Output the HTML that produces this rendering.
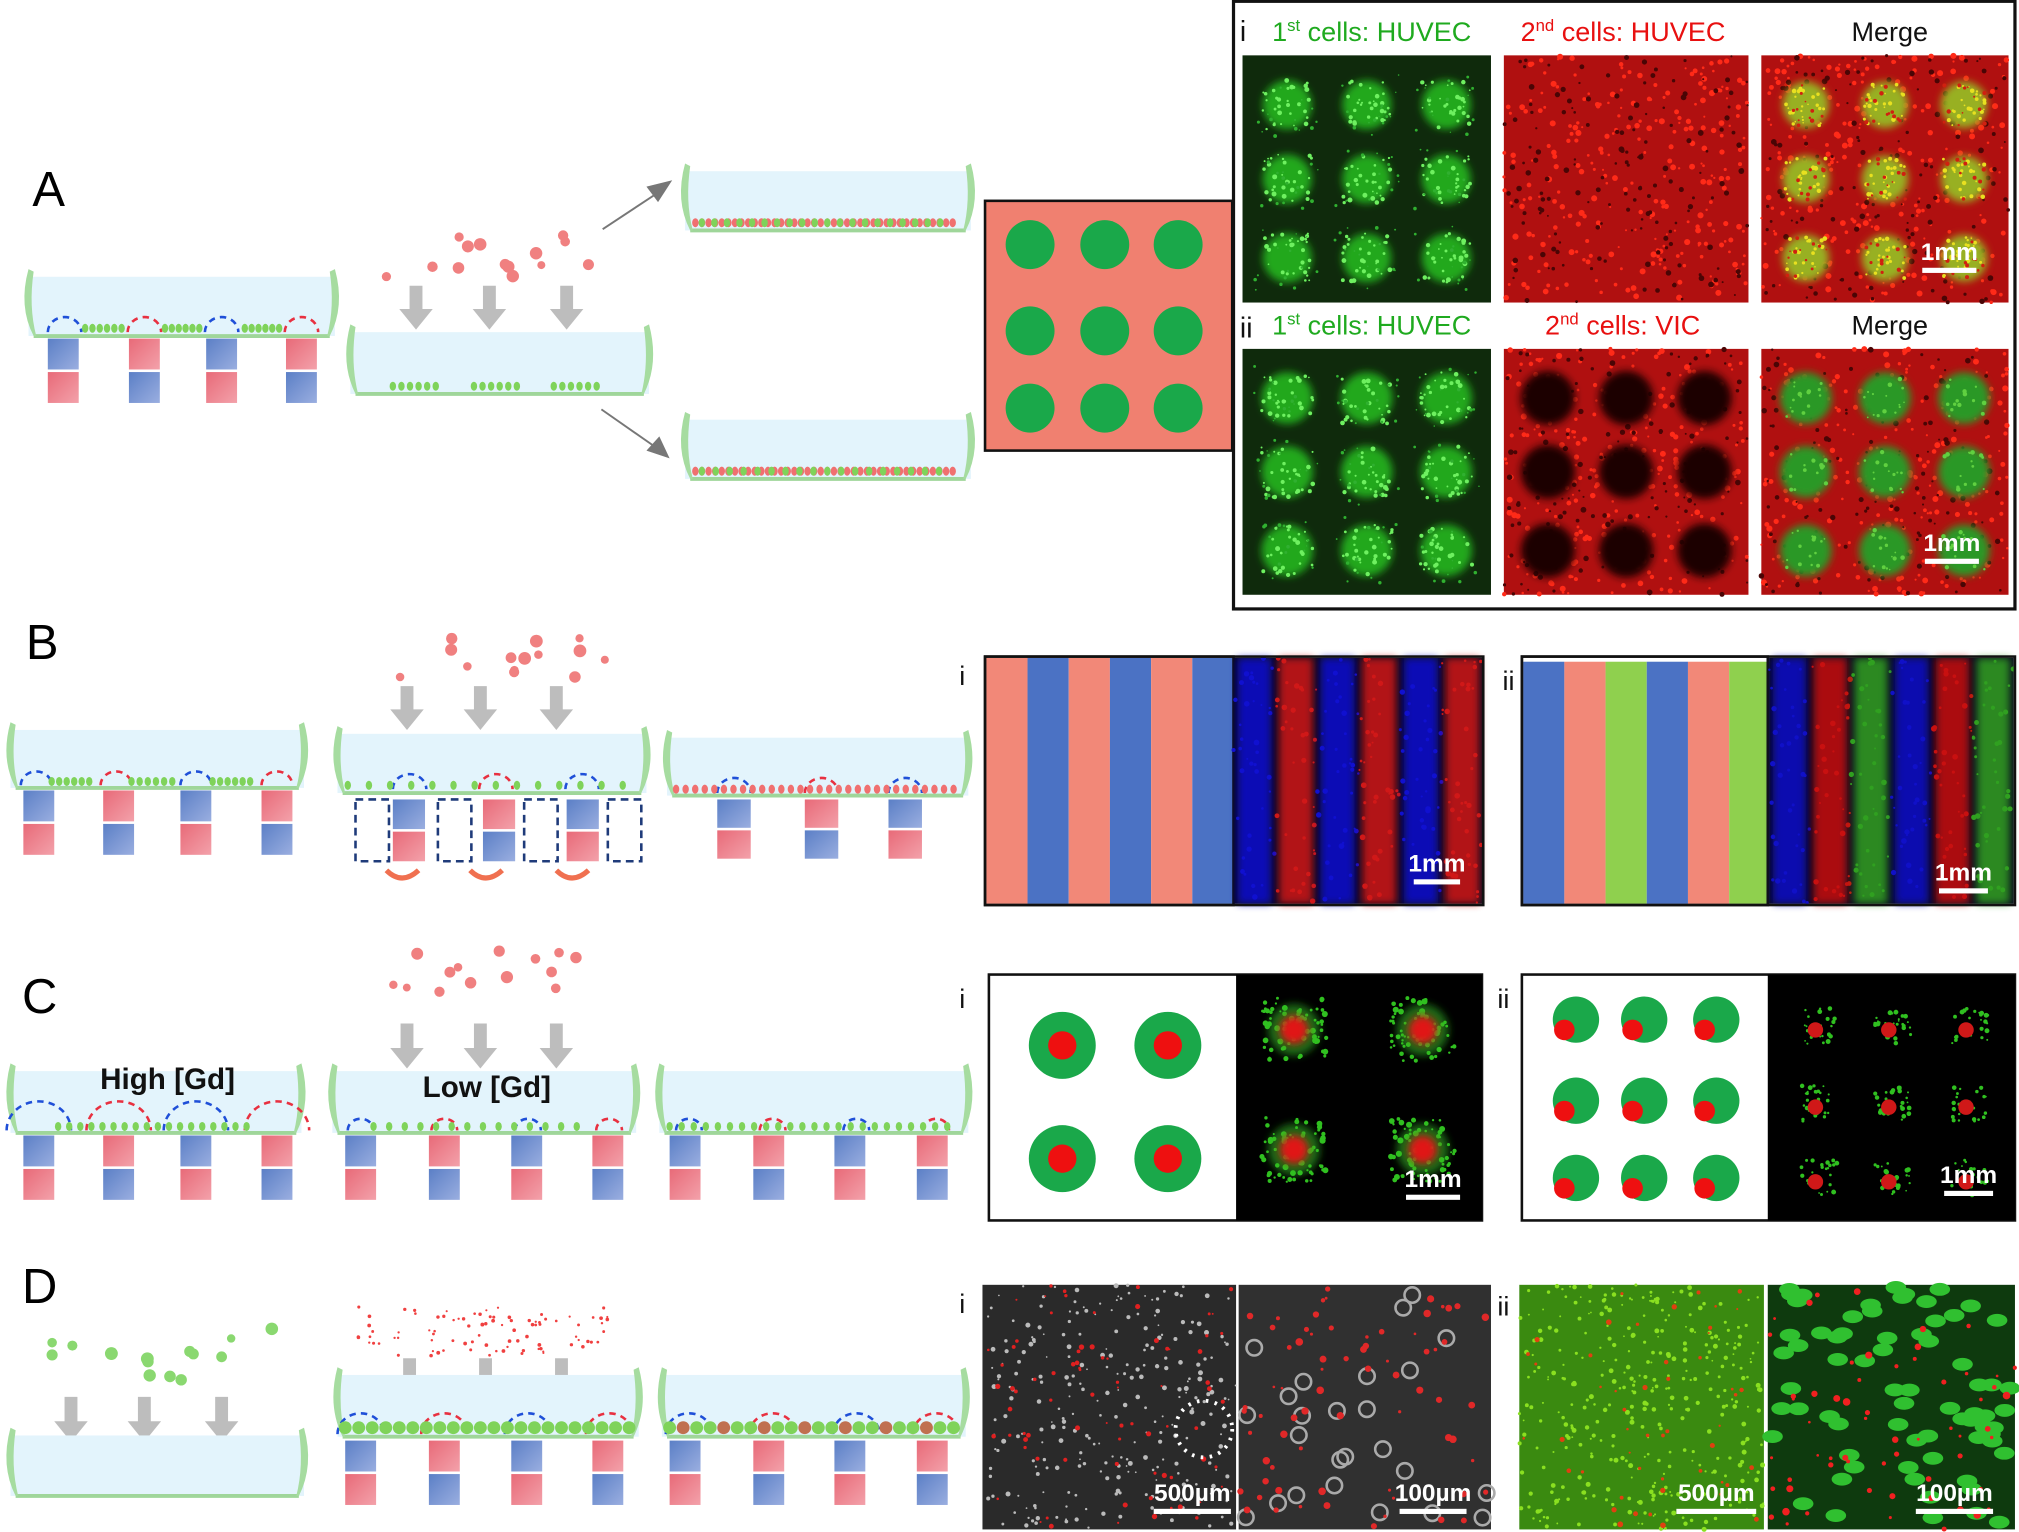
<!DOCTYPE html>
<html><head><meta charset="utf-8"><style>
html,body{margin:0;padding:0;background:#fff;}
svg{display:block;font-family:"Liberation Sans",sans-serif;}
</style></head><body>
<svg id="fig" width="2019" height="1532" viewBox="0 0 1568 1190" xmlns="http://www.w3.org/2000/svg">
<defs>
<linearGradient id="gb" x1="0" y1="0" x2="1" y2="1"><stop offset="0" stop-color="#5b7fc6"/><stop offset="1" stop-color="#9aaee0"/></linearGradient>
<linearGradient id="gr" x1="0" y1="0" x2="1" y2="1"><stop offset="0" stop-color="#e86a78"/><stop offset="1" stop-color="#f3a1aa"/></linearGradient>
<filter id="blur" x="-30%" y="-30%" width="160%" height="160%"><feGaussianBlur stdDeviation="3"/></filter>
</defs>
<g id="root"></g>
<text x="25" y="160" font-size="38">A</text>
<text x="20" y="512" font-size="38">B</text>
<text x="17" y="787" font-size="38">C</text>
<text x="17" y="1012" font-size="38">D</text>
</svg>
<script>
var NS='http://www.w3.org/2000/svg';
var root=document.getElementById('root');
var seed=7;function rnd(){seed=(seed*16807)%2147483647;return (seed-1)/2147483646;}
function mk(tag,attrs,name,parent){var el=document.createElementNS(NS,tag);for(var k in attrs)el.setAttribute(k,attrs[k]);


(parent||root).appendChild(el);return el;}
function txt(x,y,s,size,fill,name,weight,anchor){var t=mk('text',{x:x,y:y,'font-size':size,fill:fill,'font-weight':weight||'normal','text-anchor':anchor||'start'},name);t.textContent=s;return t;}
function trough(x,y,w,h,name){var g=mk('g',{},name);
mk('rect',{x:x,y:y,width:w,height:h,fill:'#e3f4fc'},'trough-fluid',g);
mk('line',{x1:x+4,y1:y+h,x2:x+w-4,y2:y+h,stroke:'#9fd69a','stroke-width':3},'trough-bottom',g);
mk('path',{d:'M'+x+' '+(y-6)+' Q'+(x-8)+' '+(y+h/2)+' '+(x+4)+' '+(y+h)+' L'+(x+6)+' '+(y+h)+' Q'+(x)+' '+(y+h/2)+' '+(x+4)+' '+(y-4)+'Z',fill:'#a6dca0'},'trough-cap-left',g);
mk('path',{d:'M'+(x+w)+' '+(y-6)+' Q'+(x+w+8)+' '+(y+h/2)+' '+(x+w-4)+' '+(y+h)+' L'+(x+w-6)+' '+(y+h)+' Q'+(x+w)+' '+(y+h/2)+' '+(x+w-4)+' '+(y-4)+'Z',fill:'#a6dca0'},'trough-cap-right',g);
return g;}
function magnets(xs,y,w,h,topBlue,name){var g=mk('g',{},name);
xs.forEach(function(x,i){var b=(i%2==0)==topBlue;
mk('rect',{x:x,y:y,width:w,height:h,fill:b?'url(#gb)':'url(#gr)'},'magnet-top',g);
mk('rect',{x:x,y:y+h+2,width:w,height:h,fill:b?'url(#gr)':'url(#gb)'},'magnet-bottom',g);});}
function arcs(xs,y,r,name){xs.forEach(function(x,i){mk('path',{d:'M'+(x-r)+' '+y+' A'+r+' '+(r*0.9)+' 0 0 1 '+(x+r)+' '+y,fill:'none',stroke:i%2?'#e83040':'#1f4fd8','stroke-width':2,'stroke-dasharray':'5 4'},name);});}
function cells(x1,x2,y,col,name,n){for(var i=0;i<n;i++){var x=x1+(x2-x1)*i/n;mk('ellipse',{cx:x,cy:y-3,rx:2.5,ry:3.5,fill:col},name);}}
function downArrow(x,y1,y2,name){mk('path',{d:'M'+(x-5)+' '+y1+' h10 v'+(y2-y1-16)+' h8 l-13 16 l-13 -16 h8z',fill:'#bdbdbd'},name);}
function dots(x,y,w,h,n,col,rmin,rmax,name){for(var i=0;i<n;i++)mk('circle',{cx:x+rnd()*w,cy:y+rnd()*h,r:rmin+rnd()*(rmax-rmin),fill:col},name);}
function speck(x,y,w,h,n,col,r,name,g){for(var i=0;i<n;i++)mk('circle',{cx:x+rnd()*w,cy:y+rnd()*h,r:r*(0.5+rnd()),fill:col},name,g);}

/* ---------- Panel A schematic ---------- */
trough(22,215,238,46,'trough-a1');
arcs([50,112,172,234],258,13,'field-arc');
cells(66,100,258,'#7fd35a','cell-green',6);cells(128,160,258,'#7fd35a','cell-green',6);cells(190,222,258,'#7fd35a','cell-green',6);
magnets([37,100,160,222],263,24,24,true,'magnets-a');
dots(300,178,170,40,14,'#f08080',3,5,'falling-cell-red');
downArrow(323,222,256,'arrow-down');downArrow(380,222,256,'arrow-down');downArrow(440,222,256,'arrow-down');
trough(272,258,232,48,'trough-a2');
cells(305,345,303,'#7fd35a','cell-green',6);cells(368,408,303,'#7fd35a','cell-green',6);cells(430,470,303,'#7fd35a','cell-green',6);
mk('line',{x1:468,y1:178,x2:515,y2:147,stroke:'#777','stroke-width':1.5},'arrow-up-right');
mk('path',{d:'M522 140 l-20 5 l9 12z',fill:'#777'},'arrow-head');
mk('line',{x1:467,y1:318,x2:510,y2:348,stroke:'#777','stroke-width':1.5},'arrow-down-right');
mk('path',{d:'M520 356 l-8 -17 l-10 11z',fill:'#777'},'arrow-head');
trough(532,133,222,46,'trough-a3');cells(540,745,176,'#f07070','cell-red',40);cells(545,740,176,'#7fd35a','cell-green',20);
trough(532,326,222,46,'trough-a4');cells(540,745,369,'#f07070','cell-red',40);cells(545,740,369,'#7fd35a','cell-green',18);
mk('rect',{x:765,y:156,width:192,height:194,fill:'#f08070',stroke:'#111','stroke-width':2},'pattern-square');
[800,858,915].forEach(function(cx){[190,257,317].forEach(function(cy){mk('circle',{cx:cx,cy:cy,r:19,fill:'#1aa84a'},'pattern-dot');});});

/* ---------- Panel A images ---------- */
mk('rect',{x:958,y:1,width:607,height:472,fill:'#fff',stroke:'#111','stroke-width':2.5},'image-box-a');
var FX=[0.18,0.5,0.82],FY=[0.2,0.5,0.82];
function greenSpots(x,y,w,h,r,name){var g=mk('g',{},name);mk('rect',{x:x,y:y,width:w,height:h,fill:'#0f2a0c'},'image-bg',g);
FX.forEach(function(fx){FY.forEach(function(fy){mk('circle',{cx:x+w*fx,cy:y+h*fy,r:r,fill:'#22a81e',filter:'url(#blur)'},'spot',g);speck(x+w*fx-r,y+h*fy-r,2*r,2*r,30,'#6ef060',1.3,'speckle',g);speck(x+w*fx-r-6,y+h*fy-r-6,2*r+12,2*r+12,14,'#30b030',1,'speckle',g);});});return g;}
function redField(x,y,w,h,holes,name){var g=mk('g',{},name);mk('rect',{x:x,y:y,width:w,height:h,fill:'#b01010'},'image-bg',g);speck(x,y,w,h,260,'#ff2a18',1.6,'speckle',g);speck(x,y,w,h,160,'#4a0505',1.5,'speckle',g);
if(holes)FX.forEach(function(fx){FY.forEach(function(fy){mk('circle',{cx:x+w*fx,cy:y+h*fy,r:holes,fill:'#1a0303',filter:'url(#blur)'},'hole',g);});});return g;}
greenSpots(965,43,193,192,19,'img-a-i-1st');redField(1168,43,190,192,0,'img-a-i-2nd');
var m1=redField(1368,43,192,192,0,'img-a-i-merge');FX.forEach(function(fx){FY.forEach(function(fy){mk('circle',{cx:1368+192*fx,cy:43+192*fy,r:18,fill:'#98b020',filter:'url(#blur)'},'spot',m1);speck(1368+192*fx-16,43+192*fy-16,32,32,25,'#e8e020',1.2,'speckle',m1);speck(1368+192*fx-16,43+192*fy-16,32,32,12,'#d02010',1.2,'speckle',m1);});});
greenSpots(965,271,193,191,20,'img-a-ii-1st');redField(1168,271,190,191,21,'img-a-ii-2nd');
var m2=redField(1368,271,192,191,0,'img-a-ii-merge');FX.forEach(function(fx){FY.forEach(function(fy){mk('circle',{cx:1368+192*fx,cy:271+191*fy,r:20,fill:'#2a9828',filter:'url(#blur)'},'spot',m2);speck(1368+192*fx-16,271+191*fy-16,32,32,15,'#60d040',1.2,'speckle',m2);});});
txt(963,32,'i',22,'#111','label-i');txt(963,262,'ii',22,'#111','label-ii');
function supLabel(x,y,num,sup,rest,col,name){var t=mk('text',{x:x,y:y,'font-size':21,fill:col},name);t.innerHTML=num+'<tspan dy="-8" font-size="13">'+sup+'</tspan><tspan dy="8">'+rest+'</tspan>';}
supLabel(988,32,'1','st',' cells: HUVEC','#1faa1f','label-1st-cells');
supLabel(1181,32,'2','nd',' cells: HUVEC','#e81010','label-2nd-cells');
txt(1438,32,'Merge',21,'#111','label-merge');
supLabel(988,260,'1','st',' cells: HUVEC','#1faa1f','label-1st-cells');
supLabel(1200,260,'2','nd',' cells: VIC','#e81010','label-2nd-cells');
txt(1438,260,'Merge',21,'#111','label-merge');
function scale(x,y,w,label,name){txt(x+w/2,y-6,label,19,'#fff','scale-label','bold','middle');mk('rect',{x:x,y:y,width:w,height:4,fill:'#fff'},name);}
scale(1493,208,42,'1mm','scale-bar');scale(1495,434,42,'1mm','scale-bar');

/* ---------- Panel B ---------- */
trough(8,567,228,45,'trough-b1');arcs([28,90,152,215],610,12,'field-arc');cells(40,75,610,'#7fd35a','cell-green',6);cells(102,140,610,'#7fd35a','cell-green',6);cells(165,200,610,'#7fd35a','cell-green',6);
magnets([18,80,140,203],614,24,24,true,'magnets-b1');
dots(300,488,175,40,14,'#f08080',3,5,'falling-cell-red');
downArrow(316,533,567,'arrow-down');downArrow(373,533,567,'arrow-down');downArrow(432,533,567,'arrow-down');
trough(262,570,240,46,'trough-b2');arcs([318,385,452],613,13,'field-arc');cells(270,500,613,'#7fd35a','cell-green',14);
magnets([305,375,440],621,25,23,true,'magnets-b2');
[276,340,407,472].forEach(function(x){mk('rect',{x:x,y:621,width:26,height:48,fill:'none',stroke:'#1f3b7a','stroke-width':2,'stroke-dasharray':'6 4'},'dashed-slot');});
[300,365,432].forEach(function(x){mk('path',{d:'M'+x+' 676 q12 12 25 0',fill:'none',stroke:'#f07050','stroke-width':4},'shift-arrow');});
trough(518,573,234,45,'trough-b3');arcs([570,638,703],616,13,'field-arc');cells(525,748,616,'#f07070','cell-red',30);
magnets([557,625,690],621,26,22,true,'magnets-b3');
txt(745,532,'i',21,'#111','label-i');txt(1167,536,'ii',21,'#111','label-ii');
var stripesI=['#f28878','#4b72c4','#f28878','#4b72c4','#f28878','#4b72c4'];
var stripesII=['#4b72c4','#f28878','#8fd04e','#4b72c4','#f28878','#8fd04e'];
stripesI.forEach(function(c,i){mk('rect',{x:766+i*32,y:511,width:32,height:191,fill:c},'stripe');});
stripesII.forEach(function(c,i){mk('rect',{x:1183+i*32,y:514,width:32,height:188,fill:c},'stripe');});
mk('rect',{x:765,y:510,width:193,height:193,fill:'none',stroke:'#111','stroke-width':2},'pattern-box-b-i');
mk('rect',{x:1182,y:510,width:191,height:193,fill:'none',stroke:'#111','stroke-width':2},'pattern-box-b-ii');
function stripeImg(x,y,w,h,cols,name){var g=mk('g',{},name);mk('rect',{x:x,y:y,width:w,height:h,fill:'#0a0a20'},'image-bg',g);var sw=w/cols.length;cols.forEach(function(c,i){mk('rect',{x:x+i*sw+3,y:y,width:sw-6,height:h,fill:c,opacity:0.85,filter:'url(#blur)'},'stripe',g);speck(x+i*sw,y,sw,h,40,c,1.5,'speckle',g);});}
stripeImg(958,511,194,191,['#1010d0','#d01818','#1010d0','#d01818','#1010d0','#d01818'],'img-b-i');
stripeImg(1374,511,190,191,['#1010c8','#c81010','#30a020','#1010c8','#c81010','#30a020'],'img-b-ii');
mk('rect',{x:765,y:510,width:387,height:193,fill:'none',stroke:'#111','stroke-width':2},'box-b-i');
mk('rect',{x:1182,y:510,width:383,height:193,fill:'none',stroke:'#111','stroke-width':2},'box-b-ii');
scale(1098,683,36,'1mm','scale-bar');scale(1506,690,38,'1mm','scale-bar');

/* ---------- Panel C ---------- */
trough(8,832,226,48,'trough-c1');arcs([30,92,152,215],878,25,'field-arc');cells(45,200,878,'#7fd35a','cell-green',18);
txt(130,846,'High [Gd]',23,'#111','label-high-gd','bold','middle');
magnets([18,80,140,203],882,24,24,true,'magnets-c1');
dots(295,738,175,40,14,'#f08080',3,5,'falling-cell-red');
downArrow(316,795,830,'arrow-down');downArrow(373,795,830,'arrow-down');downArrow(432,795,830,'arrow-down');
trough(258,832,236,48,'trough-c2');arcs([280,345,410,473],878,10,'field-arc');cells(290,460,878,'#7fd35a','cell-green',14);
txt(378,852,'Low [Gd]',23,'#111','label-low-gd','bold','middle');
magnets([268,333,397,460],882,24,24,true,'magnets-c2');
trough(512,832,240,48,'trough-c3');arcs([535,600,665,727],878,10,'field-arc');cells(520,745,878,'#7fd35a','cell-green',24);
magnets([520,585,648,712],882,24,24,true,'magnets-c3');
txt(745,783,'i',21,'#111','label-i');txt(1163,783,'ii',21,'#111','label-ii');
mk('rect',{x:768,y:757,width:383,height:191,fill:'#fff',stroke:'#111','stroke-width':2},'box-c-i');
mk('rect',{x:1182,y:757,width:383,height:191,fill:'#fff',stroke:'#111','stroke-width':2},'box-c-ii');
[825,907].forEach(function(cx){[812,900].forEach(function(cy){mk('circle',{cx:cx,cy:cy,r:26,fill:'#1aa84a'},'pattern-ring');mk('circle',{cx:cx,cy:cy,r:11,fill:'#ee1010'},'pattern-core');});});
[1224,1277,1333].forEach(function(cx){[792,855,915].forEach(function(cy){mk('circle',{cx:cx,cy:cy,r:18,fill:'#1aa84a'},'pattern-dot');mk('circle',{cx:cx-9,cy:cy+8,r:8,fill:'#ee1010'},'pattern-core');});});
var ci=mk('g',{},'img-c-i');mk('rect',{x:960,y:757,width:191,height:191,fill:'#000'},'image-bg',ci);
[1005,1105].forEach(function(cx){[800,893].forEach(function(cy){mk('circle',{cx:cx,cy:cy,r:20,fill:'#1c6a14',filter:'url(#blur)'},'halo',ci);speck(cx-25,cy-25,50,50,70,'#30c020',1.6,'speckle',ci);mk('circle',{cx:cx,cy:cy,r:11,fill:'#e01818',filter:'url(#blur)'},'core',ci);});});
var cii=mk('g',{},'img-c-ii');mk('rect',{x:1373,y:757,width:192,height:191,fill:'#000'},'image-bg',cii);
[1413,1470,1530].forEach(function(cx){[797,857,915].forEach(function(cy){speck(cx-14,cy-14,28,28,25,'#30c020',1.3,'speckle',cii);mk('circle',{cx:cx-3,cy:cy+3,r:6,fill:'#d01818'},'core',cii);});});
scale(1092,928,42,'1mm','scale-bar');scale(1510,925,38,'1mm','scale-bar');

/* ---------- Panel D ---------- */
dots(40,1030,175,50,14,'#8ad870',3,5,'falling-cell-green');
downArrow(55,1085,1120,'arrow-down');downArrow(112,1085,1120,'arrow-down');downArrow(172,1085,1120,'arrow-down');
trough(8,1115,228,47,'trough-d1');
dots(278,1015,195,40,90,'#f04040',0.8,1.5,'falling-cell-red');
downArrow(318,1055,1088,'arrow-down');downArrow(377,1055,1088,'arrow-down');downArrow(436,1055,1088,'arrow-down');
trough(262,1068,234,48,'trough-d2');arcs([280,345,410,473],1114,18,'field-arc');
for(var i=0;i<22;i++)mk('circle',{cx:268+i*10.5,cy:1109,r:5,fill:'#7fd35a'},'cell-green');
magnets([268,333,397,460],1119,24,24,true,'magnets-d2');
trough(514,1068,236,48,'trough-d3');arcs([535,600,665,727],1114,18,'field-arc');
for(var i=0;i<22;i++)mk('circle',{cx:520+i*10.5,cy:1109,r:5,fill:i%3==1?'#c07050':'#7fd35a'},'cell-green');
magnets([520,585,648,712],1119,24,24,true,'magnets-d3');
txt(745,1020,'i',21,'#111','label-i');txt(1163,1022,'ii',21,'#111','label-ii');
var d1=mk('g',{},'img-d-i-500');mk('rect',{x:763,y:998,width:197,height:190,fill:'#2a2a2a'},'image-bg',d1);speck(763,998,197,190,260,'#bbbbbb',1.3,'speckle',d1);speck(763,998,197,190,80,'#e02020',1.4,'speckle',d1);
mk('circle',{cx:935,cy:1110,r:22,fill:'none',stroke:'#fff','stroke-width':3,'stroke-dasharray':'2 5'},'highlight-circle',d1);
var d2=mk('g',{},'img-d-i-100');mk('rect',{x:962,y:998,width:196,height:190,fill:'#303030'},'image-bg',d2);
for(var i=0;i<25;i++)mk('circle',{cx:965+rnd()*190,cy:1000+rnd()*185,r:6,fill:'none',stroke:'#aaa','stroke-width':2},'cell-ring',d2);speck(962,998,196,190,70,'#e02828',2,'speckle',d2);
var d3=mk('g',{},'img-d-ii-500');mk('rect',{x:1180,y:998,width:190,height:190,fill:'#3a8a10'},'image-bg',d3);speck(1180,998,190,190,350,'#8ae020',1.3,'speckle',d3);speck(1180,998,190,190,50,'#e04010',1.5,'speckle',d3);
var d4=mk('g',{},'img-d-ii-100');mk('rect',{x:1373,y:998,width:192,height:190,fill:'#0e3a0e'},'image-bg',d4);
for(var i=0;i<70;i++)mk('ellipse',{cx:1375+rnd()*188,cy:1000+rnd()*186,rx:8,ry:5,fill:'#30c030'},'cell-green',d4);speck(1373,998,192,190,60,'#f02020',2,'speckle',d4);
scale(896,1172,60,'500µm','scale-bar');scale(1087,1172,52,'100µm','scale-bar');
scale(1302,1172,62,'500µm','scale-bar');scale(1488,1172,60,'100µm','scale-bar');
</script>
</body></html>
